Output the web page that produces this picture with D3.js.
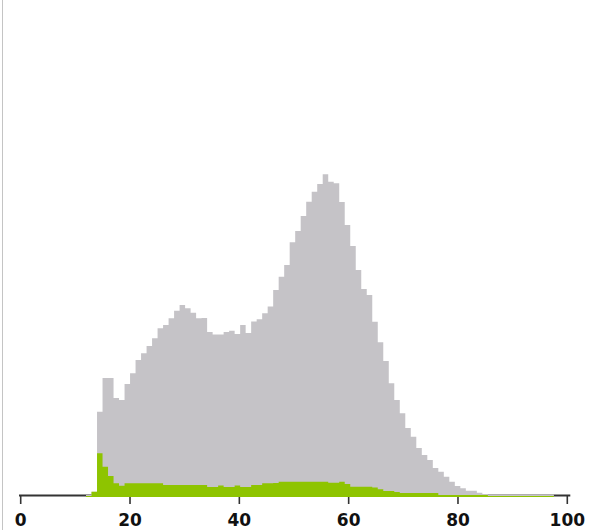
<!DOCTYPE html>
<html>
<head>
<meta charset="utf-8">
<script src="https://cdn.jsdelivr.net/npm/d3@7"></script>
<style>
  body { margin: 0; background: #fff; }
  svg { display: block; }
  .tick-label { font-family: 'DejaVu Sans', Verdana, sans-serif; font-weight: bold; font-size: 17px; fill: #111; }
</style>
</head>
<body>
<div id="chart"></div>
<script>
// bins: 85 equal bins between binLo and binHi
var binLo = 11.95
var binHi = 97.55

// all records (grey)
var allCounts = [
  1, 4.3, 84.3, 118, 118, 98, 96, 112, 122.7, 136,
  142.7, 150, 157.7, 167.7, 171, 177.7, 185.3, 191, 187.7, 183.3,
  177.7, 178, 164, 161.5, 161.5, 164, 165.3, 162, 171, 163,
  174.5, 176.7, 182.7, 189.5, 206, 219.3, 231, 253.7, 265, 280,
  294.3, 304.3, 312, 321.7, 314.3, 312.7, 294, 271, 250, 226,
  207, 201, 174.3, 153.7, 135, 112.7, 96, 82.7, 68, 59.3,
  48, 41, 36, 28, 24.3, 19.3, 14.3, 10, 7.7, 5.3,
  5.3, 3.3, 2, 1.6, 1.6, 1.6, 1.6, 1.4, 1.4, 1.4,
  1.4, 1.4, 1.4, 1.4, 1.4
]

// selected records (green)
var selCounts = [
  0, 4.3, 42.7, 29.3, 20, 12.7, 10.3, 12.7, 12.7, 12.7,
  12.7, 12.7, 12.7, 12.7, 11, 11, 11, 11, 11, 11,
  11, 11, 9, 9, 10.5, 9, 9, 10.5, 9, 9,
  11, 11, 12.7, 12.7, 13, 14.3, 14.3, 14.3, 14.3, 14.3,
  14.3, 14.3, 14.3, 14.3, 13.3, 13.3, 14.3, 12, 9.3, 9.3,
  9.3, 9.3, 8.5, 6.7, 5, 5, 4, 3, 3, 3,
  3, 3, 3, 3, 1, 1, 1, 1, 1, 1,
  1, 1, 1, 0, 0, 0, 0, 0, 0, 0,
  0, 0, 0, 0, 0
]

var xTicks = [0, 20, 40, 60, 80, 100]

var width = 589
var height = 530

var x = d3.scaleLinear().domain([0, 100]).range([20.7, 567.3])
var y = d3.scaleLinear().domain([0, 322]).range([496, 174])

var binWidth = (binHi - binLo) / allCounts.length

// turn counts into step points (last edge repeated)
function toSteps (counts) {
  var pts = counts.map(function (c, i) {
    return { x0: binLo + i * binWidth, v: c }
  })
  pts.push({ x0: binHi, v: counts[counts.length - 1] })
  return pts
}

var area = d3.area()
  .curve(d3.curveStepAfter)
  .x(function (d) { return x(d.x0) })
  .y0(y(0) + 1)
  .y1(function (d) { return y(d.v) })

var svg = d3.select('#chart').append('svg')
  .attr('width', width)
  .attr('height', height)

// left frame line
svg.append('line')
  .attr('x1', 2.5).attr('x2', 2.5)
  .attr('y1', 0).attr('y2', height)
  .attr('stroke', '#c4c4c4')
  .attr('stroke-width', 1)

// x axis (drawn under the histogram)
var axisG = svg.append('g')
axisG.append('line')
  .attr('x1', x(0) - 1.7).attr('x2', x(100) + 3)
  .attr('y1', 495.5).attr('y2', 495.5)
  .attr('stroke', '#333')
  .attr('stroke-width', 2)
axisG.selectAll('.tick')
  .data(xTicks)
  .enter().append('line')
  .attr('class', 'tick')
  .attr('x1', function (d) { return x(d) })
  .attr('x2', function (d) { return x(d) })
  .attr('y1', 495).attr('y2', 504)
  .attr('stroke', '#333')
  .attr('stroke-width', 1.6)

svg.append('path')
  .datum(toSteps(allCounts))
  .attr('fill', '#c5c3c7')
  .attr('d', area)

svg.append('path')
  .datum(toSteps(selCounts))
  .attr('fill', '#8ec400')
  .attr('d', area)

svg.selectAll('.tick-label')
  .data(xTicks)
  .enter().append('text')
  .attr('class', 'tick-label')
  .attr('x', function (d) { return x(d) })
  .attr('y', 525.5)
  .attr('text-anchor', 'middle')
  .text(function (d) { return d })
</script>
</body>
</html>
